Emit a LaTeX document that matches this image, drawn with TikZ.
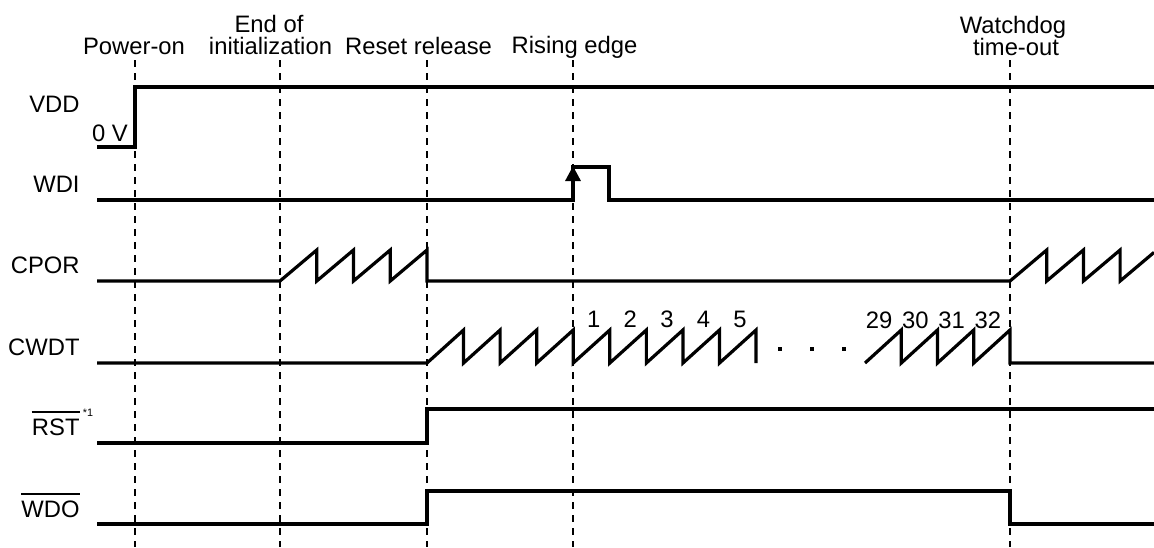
\documentclass[tikz,border=0pt]{standalone}
\usepackage{fontspec}
\setmainfont{Liberation Sans}
\usetikzlibrary{arrows.meta}
\begin{document}
\begin{tikzpicture}[x=0.5pt,y=-0.5pt,
  sig/.style={line width=1.6pt,line join=miter},
  guide/.style={line width=0.8pt,dash pattern=on 3.5pt off 3pt},
  lbl/.style={inner sep=0pt,font=\fontsize{11.9pt}{13pt}\selectfont},
  sup/.style={inner sep=0pt,font=\fontsize{5.4pt}{6pt}\selectfont},
  bar/.style={line width=0.6pt},
  dotm/.style={fill=black}]
\useasboundingbox (0,0) rectangle (1154,547);
% guide lines
\foreach \gx in {135,280,427,573,1010}
  \draw[guide] (\gx,60) -- (\gx,547);
% event labels
\node[lbl,anchor=base] (pon) at (134,54) {Power-on};
\node[lbl,anchor=base] (eoi1) at (269,32.7) {End of};
\node[lbl,anchor=base] (eoi2) at (270.5,54) {initialization};
\node[lbl,anchor=base] (rr) at (418.5,54) {Reset release};
\node[lbl,anchor=base] (re) at (574.5,53) {Rising edge};
\node[lbl,anchor=base] (wd1) at (1013,33) {Watchdog};
\node[lbl,anchor=base] (wd2) at (1016,55) {time-out};
% signal labels
\node[lbl,anchor=base east] (lvdd) at (80,112) {VDD};
\node[lbl,anchor=base] (l0v) at (110,141) {0 V};
\node[lbl,anchor=base east] (lwdi) at (80,192.3) {WDI};
\node[lbl,anchor=base east] (lcpor) at (80,273) {CPOR};
\node[lbl,anchor=base east] (lcwdt) at (80,355) {CWDT};
\node[lbl,anchor=base east] (lrst) at (80,435) {RST};
\draw[bar] ([yshift=3pt]lrst.north west) -- ([yshift=3pt]lrst.north east);
\node[sup,anchor=base west] (lsup) at (82.5,416.5) {*1};
\node[lbl,anchor=base east] (lwdo) at (80,517) {WDO};
\draw[bar] ([yshift=3pt]lwdo.north west) -- ([yshift=3pt]lwdo.north east);
% VDD
\draw[sig] (97,147) -- (135,147) -- (135,87) -- (1154,87);
% WDI
\draw[sig] (97,200) -- (573,200) -- (573,167) -- (609,167) -- (609,200) -- (1154,200);
\draw[line width=1.6pt,-{Triangle[length=7.5pt,width=7.5pt]}] (573,195) -- (573,166);
% CPOR
\draw[sig] (97,281) -- (280,281)
  -- (316.75,250) -- (316.75,281) -- (353.5,250) -- (353.5,281)
  -- (390.25,250) -- (390.25,281) -- (427,250) -- (427,281)
  -- (1010,281) -- (1046.7,250) -- (1046.7,281) -- (1083.4,250) -- (1083.4,281)
  -- (1120.1,250) -- (1120.1,281) -- (1154,252.4);
% CWDT
\draw[sig] (97,363) -- (427,363)
  \foreach \k in {1,...,9} { -- ({427+36.56*\k},330) -- ({427+36.56*\k},363) };
\draw[sig] (865,363)
  \foreach \k in {1,...,4} { -- ({865+36.25*\k},330) -- ({865+36.25*\k},363) }
  -- (1154,363);
\foreach \k/\t in {5/1,6/2,7/3,8/4,9/5}
  \node[lbl,anchor=base east] (n\t) at ({427+36.56*\k-9},327.5) {\t};
\foreach \k/\t in {1/29,2/30,3/31,4/32}
  \node[lbl,anchor=base east] (n\t) at ({865+36.25*\k-8.5},328) {\t};
\foreach \dx in {780,811.7,844}
  \fill[dotm] (\dx-2,347.3) rectangle (\dx+2,351.3);
% RST
\draw[sig] (97,443) -- (427,443) -- (427,409) -- (1154,409);
% WDO
\draw[sig] (97,524) -- (427,524) -- (427,491) -- (1010,491) -- (1010,524) -- (1154,524);
\end{tikzpicture}
\end{document}
